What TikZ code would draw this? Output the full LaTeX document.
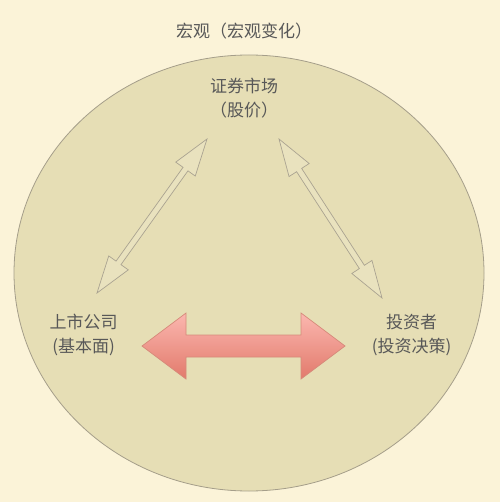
\documentclass[tikz,border=0pt]{standalone}
\usepackage{fontspec}
\setmainfont{Noto Sans CJK SC}
\usetikzlibrary{calc,shapes.geometric}
\definecolor{bgcol}{RGB}{251,243,216}
\definecolor{ellfill}{RGB}{230,222,181}
\definecolor{elldraw}{RGB}{165,158,138}
\definecolor{txtcol}{RGB}{88,88,88}
\definecolor{thinfill}{RGB}{233,226,190}
\definecolor{thindraw}{RGB}{170,163,145}
\definecolor{redtop}{RGB}{251,183,175}
\definecolor{redbot}{RGB}{226,122,108}
\definecolor{reddraw}{RGB}{214,138,122}
\newcommand\mydblarrow[6]{%
 \path[#6] (#1)
 -- ($($(#1)!#3!(#2)$)!#4!90:(#2)$)
 -- ($($(#1)!#3!(#2)$)!#5!90:(#2)$)
 -- ($($(#2)!#3!(#1)$)!#5!-90:(#1)$)
 -- ($($(#2)!#3!(#1)$)!#4!-90:(#1)$)
 -- (#2)
 -- ($($(#2)!#3!(#1)$)!#4!90:(#1)$)
 -- ($($(#2)!#3!(#1)$)!#5!90:(#1)$)
 -- ($($(#1)!#3!(#2)$)!#5!-90:(#2)$)
 -- ($($(#1)!#3!(#2)$)!#4!-90:(#2)$)
 -- cycle;}
\tikzset{
  lbl/.style={text=txtcol, font=\fontsize{17}{24}\selectfont, align=center, inner sep=0pt},
  thinarrow/.style={fill=thinfill, draw=thindraw, line width=0.7pt, line join=miter},
  redarrow/.style={top color=redtop, bottom color=redbot, draw=reddraw, line width=0.7pt},
}
\begin{document}
\begin{tikzpicture}[x=1pt,y=-1pt]
\fill[bgcol] (0,0) rectangle (500,502);
\useasboundingbox (0,0) rectangle (500,502);
\node[draw=elldraw, fill=ellfill, line width=0.8pt, ellipse, minimum width=470pt, minimum height=436pt, inner sep=0pt] (macro) at (249,273) {};
\node[lbl] (title) at (244,31) {宏观（宏观变化）};
\node[lbl] (market) at (244,98) {证券市场\\（股价）};
\node[lbl] (company) at (83.5,335) {上市公司\\(基本面)};
\node[lbl] (investor) at (411.5,335) {投资者\\(投资决策)};
\coordinate (l1) at (97,293);
\coordinate (l2) at (207,139);
\coordinate (r1) at (279,139);
\coordinate (r2) at (382,298);
\coordinate (h1) at (142,346);
\coordinate (h2) at (345,346);
\mydblarrow{l1}{l2}{37pt}{12pt}{3pt}{thinarrow}
\mydblarrow{r1}{r2}{37pt}{12pt}{3pt}{thinarrow}
\mydblarrow{h1}{h2}{44pt}{33pt}{11pt}{redarrow}
\end{tikzpicture}
\end{document}
